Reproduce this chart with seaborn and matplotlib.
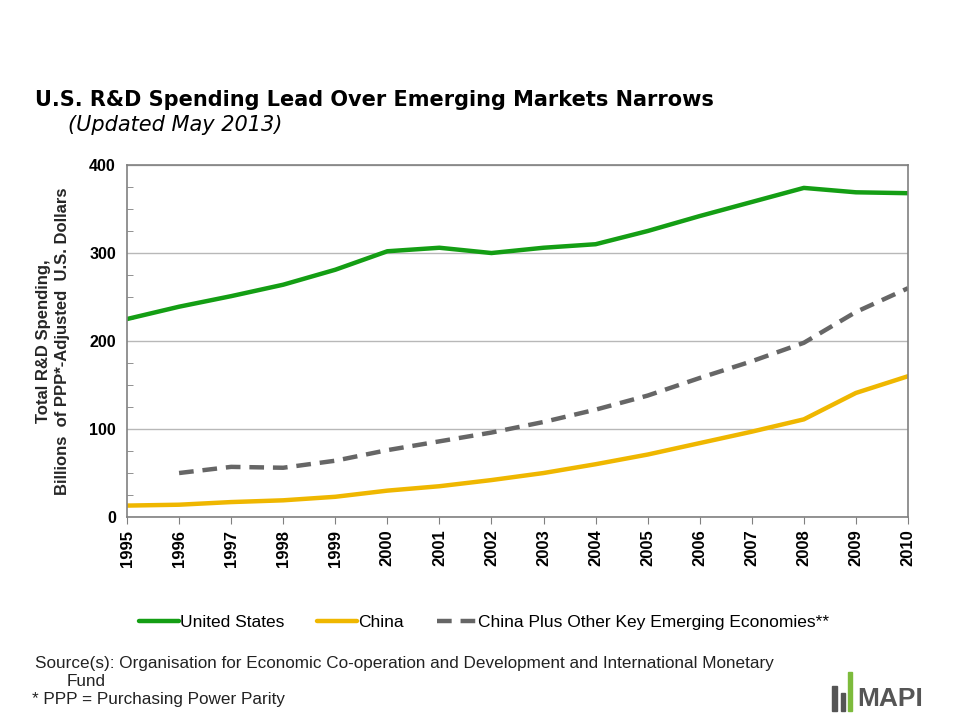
import matplotlib
matplotlib.use('Agg')
import matplotlib.pyplot as plt
import matplotlib.patches as mpatches
import numpy as np
import pandas as pd
import seaborn as sns

years = list(range(1995, 2011))
us = [225, 239, 251, 264, 281, 302, 306, 300, 306, 310, 325, 342, 358, 374, 369, 368]
china = [13, 14, 17, 19, 23, 30, 35, 42, 50, 60, 71, 84, 97, 111, 141, 160]
emerging_years = list(range(1996, 2011))
emerging = [50, 57, 56, 64, 76, 86, 96, 108, 122, 138, 158, 177, 198, 233, 260]

green = '#149e14'
gold = '#efb700'
grey = '#666666'

sns.set_style('white')
plt.rcParams['font.family'] = ['Liberation Sans', 'DejaVu Sans']
plt.rcParams['text.color'] = 'black'
plt.rcParams['xtick.color'] = 'black'
plt.rcParams['ytick.color'] = 'black'

fig = plt.figure(figsize=(9.6, 7.2), dpi=100)
ax = fig.add_axes([0.1323, 0.2819, 0.8135, 0.4889])

df_us = pd.DataFrame({'year': years, 'value': us})
df_cn = pd.DataFrame({'year': years, 'value': china})
df_em = pd.DataFrame({'year': emerging_years, 'value': emerging})

sns.lineplot(data=df_us, x='year', y='value', ax=ax, color=green, lw=3.2,
             label='United States')
sns.lineplot(data=df_cn, x='year', y='value', ax=ax, color=gold, lw=3.2,
             label='China')
sns.lineplot(data=df_em, x='year', y='value', ax=ax, color=grey, lw=3.2,
             dashes=False, label='China Plus Other Key Emerging Economies**')
ax.lines[-1].set_dashes((3.3, 2.0))

ax.set_xlim(1995, 2010)
ax.set_ylim(0, 400)
ax.set_xticks(years)
ax.set_xticklabels([str(y) for y in years], rotation=90, fontsize=12,
                   fontweight='bold')
ax.set_yticks([0, 100, 200, 300, 400])
ax.set_yticklabels(['0', '100', '200', '300', '400'], fontsize=11.5,
                   fontweight='bold')
ax.set_yticks(np.arange(25, 400, 25), minor=True)
ax.tick_params(axis='y', which='major', direction='out', length=4,
               color='#808080', pad=4)
ax.tick_params(axis='y', which='minor', direction='in', length=4,
               color='#808080', left=True)
ax.tick_params(axis='x', which='major', direction='out', length=5,
               color='#808080', bottom=True, pad=4)
ax.grid(axis='y', which='major', color='#b8b8b8', lw=1)
for s in ax.spines.values():
    s.set_color('#808080')
    s.set_linewidth(1.2)
ax.set_xlabel('')
ax.set_ylabel('Total R&D Spending,\nBillions  of PPP*-Adjusted  U.S. Dollars',
              fontsize=12, fontweight='bold', labelpad=14, linespacing=1.35)

ax.legend(loc='center', bbox_to_anchor=(0.457, -0.3), ncol=3, frameon=False,
          fontsize=12.5, handlelength=2.3, handletextpad=0.05,
          columnspacing=1.9)

fig.text(0.036, 0.861, 'U.S. R&D Spending Lead Over Emerging Markets Narrows',
         fontsize=15, fontweight='bold', family='DejaVu Sans', va='center')
fig.text(0.071, 0.826, '(Updated May 2013)', fontsize=15, style='italic',
         family='DejaVu Sans', va='center')

src = '#222222'
fig.text(0.036, 0.079, 'Source(s): Organisation for Economic Co-operation and '
         'Development and International Monetary', fontsize=12.3,
         color=src, va='center')
fig.text(0.069, 0.054, 'Fund', fontsize=12.3, color=src, va='center')
fig.text(0.033, 0.028, '* PPP = Purchasing Power Parity', fontsize=12.3,
         color=src, va='center')

# logo
fig.patches.append(mpatches.Rectangle((0.867, 0.012), 0.005, 0.035,
                                      transform=fig.transFigure, color='#555555'))
fig.patches.append(mpatches.Rectangle((0.876, 0.012), 0.004, 0.025,
                                      transform=fig.transFigure, color='#555555'))
fig.patches.append(mpatches.Rectangle((0.883, 0.012), 0.005, 0.055,
                                      transform=fig.transFigure, color='#7dbb3c'))
fig.text(0.893, 0.012, 'MAPI', fontsize=19, fontweight='bold',
         color='#555555', va='bottom')

fig.savefig('out.png', dpi=100)
